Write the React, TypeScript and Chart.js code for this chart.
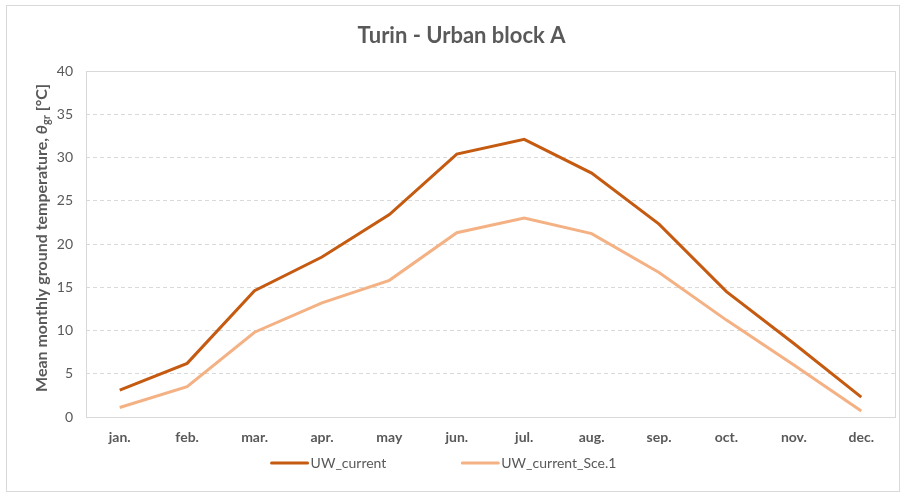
import React, { useEffect, useRef } from "react";
import { Chart, registerables } from "chart.js";

Chart.register(...registerables);

const months = ["jan.", "feb.", "mar.", "apr.", "may", "jun.", "jul.", "aug.", "sep.", "oct.", "nov.", "dec."];
const uwCurrent = [3.1, 6.2, 14.6, 18.5, 23.4, 30.4, 32.1, 28.2, 22.3, 14.5, 8.5, 2.3];
const uwCurrentSce1 = [1.1, 3.5, 9.8, 13.2, 15.8, 21.3, 23.0, 21.2, 16.7, 11.2, 6.0, 0.7];
const seriesNames = ["UW_current", "UW_current_Sce.1"];
const seriesColors = ["#C55A11", "#F4B183"];
const chartTitle = "Turin - Urban block A";

const FONT = "Lato, 'Open Sans', sans-serif";
const TEXT = "#595959";
const GRID = "#D9D9D9";

const decorPlugin = {
  id: "decor",
  beforeDraw(chart: any) {
    const { ctx, width, height } = chart;
    ctx.save();
    ctx.fillStyle = "#ffffff";
    ctx.fillRect(0, 0, width, height);
    ctx.strokeStyle = GRID;
    ctx.lineWidth = 1;
    ctx.strokeRect(6.5, 5.5, width - 8, height - 7);
    ctx.restore();
  },
  afterDraw(chart: any) {
    const { ctx, chartArea } = chart;
    ctx.save();
    // plot border
    ctx.strokeStyle = GRID;
    ctx.lineWidth = 1;
    ctx.strokeRect(
      Math.round(chartArea.left) + 0.5,
      Math.round(chartArea.top) + 0.5,
      Math.round(chartArea.right - chartArea.left),
      Math.round(chartArea.bottom - chartArea.top)
    );

    // y axis title with italic theta and subscript
    const cx = 42;
    const cy = 238;
    const parts = [
      { t: "Mean monthly ground temperature, ", f: `bold 16px ${FONT}`, dy: 0 },
      { t: "θ", f: `italic bold 16px ${FONT}`, dy: 0 },
      { t: "gr", f: `bold 11px ${FONT}`, dy: 4 },
      { t: " [°C]", f: `bold 16px ${FONT}`, dy: 0 },
    ];
    let total = 0;
    const widths = parts.map((p) => {
      ctx.font = p.f;
      const w = ctx.measureText(p.t).width;
      total += w;
      return w;
    });
    ctx.translate(cx, cy);
    ctx.rotate(-Math.PI / 2);
    ctx.fillStyle = TEXT;
    ctx.textBaseline = "middle";
    ctx.textAlign = "left";
    let x = -total / 2;
    parts.forEach((p, i) => {
      ctx.font = p.f;
      ctx.fillText(p.t, x, p.dy);
      x += widths[i];
    });
    ctx.setTransform(1, 0, 0, 1, 0, 0);

    // legend
    const ly = 463;
    const lineLen = 36;
    const gapText = 3;
    const itemGap = 76;
    ctx.font = `14px ${FONT}`;
    const tw = chart.data.datasets.map((d: any) => ctx.measureText(d.label).width);
    let lt = 0;
    tw.forEach((w: number, i: number) => {
      lt += lineLen + gapText + w + (i > 0 ? itemGap : 0);
    });
    let lx = 444 - lt / 2;
    chart.data.datasets.forEach((d: any, i: number) => {
      ctx.strokeStyle = d.borderColor;
      ctx.lineWidth = 3;
      ctx.lineCap = "round";
      ctx.beginPath();
      ctx.moveTo(lx, ly);
      ctx.lineTo(lx + lineLen, ly);
      ctx.stroke();
      ctx.fillStyle = TEXT;
      ctx.textBaseline = "middle";
      ctx.textAlign = "left";
      ctx.fillText(d.label, lx + lineLen + gapText, ly);
      lx += lineLen + gapText + tw[i] + itemGap;
    });
    ctx.restore();
  },
};

export default function App() {
  const ref = useRef<HTMLCanvasElement | null>(null);

  useEffect(() => {
    if (!ref.current) return;
    const chart = new Chart(ref.current, {
      type: "line",
      data: {
        labels: months,
        datasets: [
          {
            label: seriesNames[0],
            data: uwCurrent,
            borderColor: seriesColors[0],
            backgroundColor: seriesColors[0],
            borderWidth: 3,
            pointRadius: 0,
            tension: 0,
          },
          {
            label: seriesNames[1],
            data: uwCurrentSce1,
            borderColor: seriesColors[1],
            backgroundColor: seriesColors[1],
            borderWidth: 3,
            pointRadius: 0,
            tension: 0,
          },
        ],
      },
      options: {
        animation: false,
        responsive: false,
        maintainAspectRatio: false,
        layout: { padding: { left: 28, right: 6, top: 0, bottom: 0 } },
        plugins: {
          legend: { display: false },
          tooltip: { enabled: false },
          title: {
            display: true,
            text: chartTitle,
            color: TEXT,
            font: { family: FONT, size: 22, weight: "bold" },
            padding: { top: 23, bottom: 21.6 },
          },
        },
        scales: {
          x: {
            offset: true,
            grid: { display: false, drawTicks: false },
            border: { display: false },
            ticks: {
              color: TEXT,
              font: { family: FONT, size: 14, weight: "bold" },
              padding: 12,
              maxRotation: 0,
            },
            afterFit(scale: any) {
              scale.height = 76;
            },
          },
          y: {
            min: 0,
            max: 40,
            ticks: {
              stepSize: 5,
              color: TEXT,
              font: { family: FONT, size: 14 },
              padding: 13,
            },
            grid: {
              drawTicks: false,
              color: (c: any) => (c.tick && (c.tick.value === 0 || c.tick.value === 40) ? "rgba(0,0,0,0)" : GRID),
            },
            border: { display: false, dash: [4, 3] },
            afterFit(scale: any) {
              scale.width = 58;
            },
          },
        },
      } as any,
      plugins: [decorPlugin],
    });
    return () => chart.destroy();
  }, []);

  return (
    <div style={{ position: "fixed", left: 0, top: 0, width: 901, height: 493 }}>
      <canvas ref={ref} width={901} height={493} style={{ width: 901, height: 493, display: "block" }} />
    </div>
  );
}
